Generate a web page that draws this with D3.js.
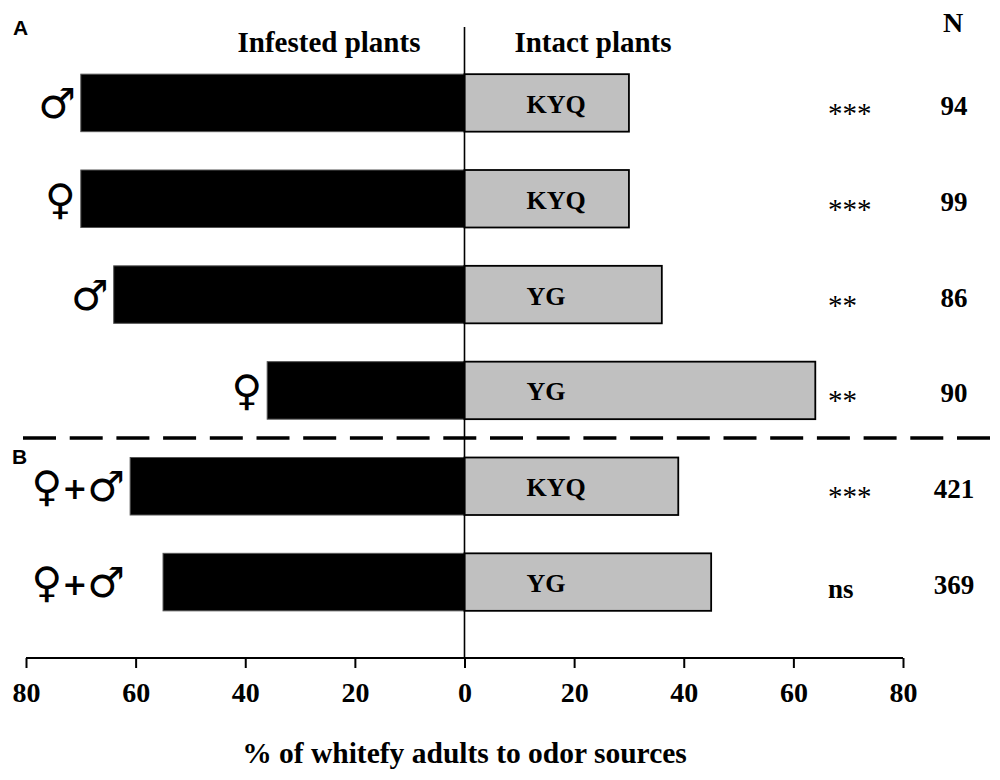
<html>
<head>
<meta charset="utf-8">
<style>
  body { margin: 0; background: #fff; }
  text { font-family: "Liberation Serif", "Times New Roman", serif; }
</style>
</head>
<body>
<script src="https://cdn.jsdelivr.net/npm/d3@7"></script>
<script>
// data
var groups    = ["♂", "♀", "♂", "♀", "♀+♂", "♀+♂"];
var infested  = [70, 70, 64, 36, 61, 55];   // % to infested plants
var intact    = [30, 30, 36, 64, 39, 45];   // % to intact plants
var cultivars = ["KYQ", "KYQ", "YG", "YG", "KYQ", "YG"];
var signif    = ["***", "***", "**", "**", "***", "ns"];
var nValues   = [94, 99, 86, 90, 421, 369];
var tickValues = [-80, -60, -40, -20, 0, 20, 40, 60, 80];

var width = 1000, height = 780;
var svg = d3.select("body").append("svg")
    .attr("width", width)
    .attr("height", height);

var x = d3.scaleLinear().domain([-80, 80]).range([26, 903]);
var y = d3.scaleBand()
    .domain(d3.range(groups.length))
    .range([55, 630])
    .paddingInner(0.4)
    .paddingOuter(0.2);
var axisY = 658;

// infested (left, black)
svg.selectAll(".left")
    .data(infested)
    .enter().append("rect")
    .attr("class", "left")
    .attr("x", function(d) { return x(-d); })
    .attr("y", function(d, i) { return y(i); })
    .attr("width", function(d) { return x(0) - x(-d); })
    .attr("height", y.bandwidth())
    .style("fill", "#000")
    .style("stroke", "#555")
    .style("stroke-width", 1);

// intact (right, grey)
svg.selectAll(".right")
    .data(intact)
    .enter().append("rect")
    .attr("class", "right")
    .attr("x", x(0))
    .attr("y", function(d, i) { return y(i); })
    .attr("width", function(d) { return x(d) - x(0); })
    .attr("height", y.bandwidth())
    .style("fill", "#c0c0c0")
    .style("stroke", "#000")
    .style("stroke-width", 1.8);

// cultivar names inside the grey bars
svg.selectAll(".cv")
    .data(cultivars)
    .enter().append("text")
    .attr("class", "cv")
    .attr("x", x(0) + 62)
    .attr("y", function(d, i) { return y(i) + y.bandwidth() / 2 + 10; })
    .style("font-size", "26px")
    .style("font-weight", "bold")
    .text(function(d) { return d; });

// sex symbols
var lab = svg.selectAll(".sex")
    .data(groups)
    .enter().append("text")
    .attr("class", "sex")
    .attr("text-anchor", "end")
    .attr("x", function(d, i) {
        return d.indexOf("+") >= 0 ? 125 : x(-infested[i]) - 5;
    })
    .attr("y", function(d, i) { return y(i) + y.bandwidth() / 2 + 15; })
    .style("font-family", "DejaVu Sans")
    .style("font-size", "42px");

lab.each(function(d) {
    var t = d3.select(this);
    var parts = d.split("+");
    parts.forEach(function(p, k) {
        if (k > 0) {
            t.append("tspan")
                .style("font-size", "30px")
                .style("font-weight", "bold")
                .attr("dy", -2)
                .text("+");
            t.append("tspan").attr("dy", 2).text(p);
        } else {
            t.append("tspan").text(p);
        }
    });
});

// significance
svg.selectAll(".sig")
    .data(signif)
    .enter().append("text")
    .attr("class", "sig")
    .attr("x", 828)
    .attr("y", function(d, i) {
        return y(i) + y.bandwidth() / 2 + (d === "ns" ? 16 : 20);
    })
    .style("font-size", function(d) { return d === "ns" ? "27px" : "29px"; })
    .style("font-weight", function(d) { return d === "ns" ? "bold" : "normal"; })
    .text(function(d) { return d; });

// N column
svg.selectAll(".n")
    .data(nValues)
    .enter().append("text")
    .attr("class", "n")
    .attr("text-anchor", "middle")
    .attr("x", 954)
    .attr("y", function(d, i) { return y(i) + y.bandwidth() / 2 + 12; })
    .style("font-size", "27px")
    .style("font-weight", "bold")
    .text(function(d) { return d; });

svg.append("text")
    .attr("x", 953).attr("y", 32)
    .attr("text-anchor", "middle")
    .style("font-size", "28px").style("font-weight", "bold")
    .text("N");

// centre line
svg.append("line")
    .attr("x1", x(0)).attr("x2", x(0))
    .attr("y1", 27).attr("y2", axisY)
    .style("stroke", "#000").style("stroke-width", 1.6);

// x axis
var xAxis = d3.axisBottom(x)
    .tickValues(tickValues)
    .tickSize(10)
    .tickPadding(14)
    .tickFormat(function(d) { return Math.abs(d); });

var gx = svg.append("g")
    .attr("transform", "translate(0," + axisY + ")")
    .call(xAxis);
gx.select(".domain").attr("d", "M" + x(-80) + ",0H" + x(80))
    .style("stroke-width", 2);
gx.selectAll(".tick line").style("stroke-width", 2);
gx.selectAll(".tick text")
    .style("font-family", "Liberation Serif")
    .style("font-size", "28px")
    .style("font-weight", "bold")
    .style("fill", "#000");

// headers
svg.append("text")
    .attr("x", 329).attr("y", 52)
    .attr("text-anchor", "middle")
    .style("font-size", "29px").style("font-weight", "bold")
    .text("Infested plants");
svg.append("text")
    .attr("x", 593).attr("y", 52)
    .attr("text-anchor", "middle")
    .style("font-size", "29px").style("font-weight", "bold")
    .text("Intact plants");

// axis title
svg.append("text")
    .attr("x", x(0)).attr("y", 763)
    .attr("text-anchor", "middle")
    .style("font-size", "29.5px").style("font-weight", "bold")
    .text("% of whitefy adults to odor sources");

// panel separator
svg.append("line")
    .attr("x1", 23).attr("x2", 990)
    .attr("y1", 438).attr("y2", 438)
    .style("stroke", "#000")
    .style("stroke-width", 3.5)
    .style("stroke-dasharray", "33,13.7");

// panel letters
svg.append("text")
    .attr("x", 13).attr("y", 35)
    .style("font-family", "Liberation Sans")
    .style("font-size", "21px").style("font-weight", "bold")
    .text("A");
svg.append("text")
    .attr("x", 12).attr("y", 464)
    .style("font-family", "Liberation Sans")
    .style("font-size", "21px").style("font-weight", "bold")
    .text("B");
</script>
</body>
</html>
